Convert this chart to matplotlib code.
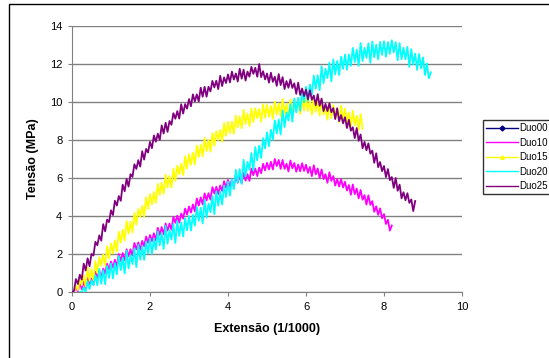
import matplotlib
matplotlib.use("Agg")
import matplotlib.pyplot as plt
from matplotlib.lines import Line2D
from matplotlib.patches import Rectangle

plt.rcParams.update({
    "font.family": ["Liberation Sans", "DejaVu Sans"],
    "font.size": 8,
})

# ---------------------------------------------------------------------------
# Dados: extensão (1/1000) e tensão (MPa)
# ---------------------------------------------------------------------------
extensao = [
    0.0, 0.05, 0.1, 0.15, 0.2, 0.25, 0.3, 0.35, 0.4, 0.45, 0.5, 0.55, 0.6, 0.65, 0.7, 0.75, 0.8, 0.85, 0.9, 0.95,
    1.0, 1.05, 1.1, 1.15, 1.2, 1.25, 1.3, 1.35, 1.4, 1.45, 1.5, 1.55, 1.6, 1.65, 1.7, 1.75, 1.8, 1.85, 1.9, 1.95,
    2.0, 2.05, 2.1, 2.15, 2.2, 2.25, 2.3, 2.35, 2.4, 2.45, 2.5, 2.55, 2.6, 2.65, 2.7, 2.75, 2.8, 2.85, 2.9, 2.95,
    3.0, 3.05, 3.1, 3.15, 3.2, 3.25, 3.3, 3.35, 3.4, 3.45, 3.5, 3.55, 3.6, 3.65, 3.7, 3.75, 3.8, 3.85, 3.9, 3.95,
    4.0, 4.05, 4.1, 4.15, 4.2, 4.25, 4.3, 4.35, 4.4, 4.45, 4.5, 4.55, 4.6, 4.65, 4.7, 4.75, 4.8, 4.85, 4.9, 4.95,
    5.0, 5.05, 5.1, 5.15, 5.2, 5.25, 5.3, 5.35, 5.4, 5.45, 5.5, 5.55, 5.6, 5.65, 5.7, 5.75, 5.8, 5.85, 5.9, 5.95,
    6.0, 6.05, 6.1, 6.15, 6.2, 6.25, 6.3, 6.35, 6.4, 6.45, 6.5, 6.55, 6.6, 6.65, 6.7, 6.75, 6.8, 6.85, 6.9, 6.95,
    7.0, 7.05, 7.1, 7.15, 7.2, 7.25, 7.3, 7.35, 7.4, 7.45, 7.5, 7.55, 7.6, 7.65, 7.7, 7.75, 7.8, 7.85, 7.9, 7.95,
    8.0, 8.05, 8.1, 8.15, 8.2, 8.25, 8.3, 8.35, 8.4, 8.45, 8.5, 8.55, 8.6, 8.65, 8.7, 8.75, 8.8, 8.85, 8.9, 8.95,
    9.0, 9.05, 9.1, 9.15, 9.2,
]

# Duo10: extensão 0 a 8.2
y_duo10 = [
    0.0, 0.0, 0.27, 0.03, 0.54, 0.15, 0.56, 0.17, 0.73, 0.34, 0.7, 0.38, 1.06, 0.74, 1.12, 0.75, 1.23, 0.96, 1.49, 1.17,
    1.6, 1.28, 1.7, 1.33, 2.0, 1.63, 2.05, 1.68, 2.25, 1.88, 2.25, 1.92, 2.58, 2.25, 2.61, 2.23, 2.69, 2.41, 2.92, 2.59,
    3.0, 2.67, 3.09, 2.71, 3.38, 3.0, 3.42, 3.04, 3.61, 3.23, 3.6, 3.28, 3.96, 3.64, 4.02, 3.65, 4.13, 3.86, 4.39, 4.07,
    4.5, 4.18, 4.61, 4.24, 4.92, 4.55, 4.98, 4.61, 5.19, 4.82, 5.2, 4.86, 5.52, 5.18, 5.54, 5.15, 5.61, 5.32, 5.83, 5.49,
    5.9, 5.54, 5.93, 5.52, 6.16, 5.75, 6.14, 5.73, 6.27, 5.86, 6.2, 5.85, 6.5, 6.15, 6.5, 6.1, 6.55, 6.25, 6.75, 6.4,
    6.8, 6.45, 6.85, 6.45, 7.0, 6.63, 6.95, 6.48, 6.95, 6.48, 6.75, 6.34, 6.92, 6.51, 6.79, 6.33, 6.71, 6.35, 6.78, 6.37,
    6.7, 6.27, 6.58, 6.1, 6.67, 6.19, 6.5, 6.0, 6.45, 5.95, 6.2, 5.75, 6.3, 5.85, 6.1, 5.6, 5.95, 5.55, 5.95, 5.5,
    5.8, 5.34, 5.63, 5.12, 5.66, 5.15, 5.44, 4.93, 5.37, 4.86, 5.1, 4.6, 5.09, 4.59, 4.78, 4.22, 4.51, 4.06, 4.4, 3.88,
    4.1, 3.58, 3.8, 3.23, 3.5,
]

# Duo15: extensão 0 a 7.45
y_duo15 = [
    0.0, 0.0, 0.35, 0.1, 0.65, 0.35, 0.9, 0.3, 1.3, 0.6, 1.2, 0.62, 1.64, 1.01, 1.83, 1.4, 1.97, 1.39, 2.41, 1.78,
    2.55, 2.03, 2.71, 2.14, 3.17, 2.6, 3.28, 2.71, 3.74, 3.07, 3.7, 3.13, 4.16, 3.54, 4.37, 3.95, 4.53, 3.96, 4.99, 4.37,
    5.15, 4.61, 5.27, 4.68, 5.69, 5.1, 5.76, 5.17, 6.18, 5.49, 6.1, 5.5, 6.5, 5.85, 6.65, 6.2, 6.75, 6.15, 7.15, 6.5,
    7.25, 6.69, 7.33, 6.72, 7.71, 7.1, 7.74, 7.13, 8.12, 7.41, 8.0, 7.38, 8.36, 7.69, 8.47, 8.0, 8.53, 7.91, 8.89, 8.22,
    8.95, 8.36, 8.97, 8.33, 9.29, 8.65, 9.26, 8.62, 9.58, 8.84, 9.4, 8.73, 9.66, 8.94, 9.67, 9.15, 9.63, 8.96, 9.89, 9.17,
    9.85, 9.22, 9.79, 9.11, 10.03, 9.35, 9.92, 9.24, 10.16, 9.38, 9.9, 9.22, 10.13, 9.4, 10.11, 9.58, 10.04, 9.36, 10.27, 9.54,
    10.2, 9.53, 10.05, 9.33, 10.2, 9.48, 10.0, 9.28, 10.15, 9.33, 9.8, 9.07, 9.94, 9.16, 9.83, 9.25, 9.67, 8.94, 9.81, 9.03,
    9.65, 8.95, 9.44, 8.69, 9.53, 8.78, 9.27, 8.52, 9.36, 8.6,
]

# Duo20: extensão 0.2 a 9.2
y_duo20 = [
    0.0, 0.0, 0.24, 0.0, 0.57, 0.16, 0.6, 0.37, 0.88, 0.35, 1.21, 0.43, 1.14, 0.41, 1.37, 0.74, 1.5, 0.71, 1.52, 0.93,
    1.89, 1.15, 1.81, 0.97, 2.18, 1.24, 1.95, 1.47, 2.29, 1.31, 2.48, 1.7, 2.42, 1.69, 2.66, 2.03, 2.8, 2.01, 2.82, 2.23,
    3.19, 2.45, 3.11, 2.27, 3.48, 2.54, 3.25, 2.76, 3.57, 2.58, 3.74, 2.95, 3.66, 2.92, 3.88, 3.24, 4.0, 3.23, 4.06, 3.49,
    4.47, 3.75, 4.43, 3.61, 4.84, 3.92, 4.65, 4.2, 5.05, 4.1, 5.3, 4.55, 5.3, 4.6, 5.6, 5.0, 5.8, 5.07, 5.94, 5.41,
    6.43, 5.75, 6.47, 5.69, 6.96, 6.08, 6.85, 6.44, 7.32, 6.4, 7.63, 6.92, 7.7, 7.05, 8.1, 7.55, 8.4, 7.67, 8.54, 8.01,
    9.03, 8.35, 9.07, 8.29, 9.56, 8.68, 9.45, 9.02, 9.89, 8.96, 10.18, 9.45, 10.22, 9.54, 10.56, 9.98, 10.8, 10.06, 10.92, 10.38,
    11.39, 10.7, 11.41, 10.62, 11.88, 10.99, 11.75, 11.26, 12.07, 11.08, 12.24, 11.45, 12.16, 11.42, 12.38, 11.74, 12.5, 11.7, 12.5, 11.9,
    12.85, 12.1, 12.75, 11.9, 13.1, 12.15, 12.85, 12.32, 13.09, 12.06, 13.18, 12.35, 13.02, 12.24, 13.16, 12.48, 13.2, 12.38, 13.15, 12.53,
    13.25, 12.6, 13.15, 12.2, 13.1, 12.25, 12.85, 12.25, 12.9, 11.84, 12.78, 11.97, 12.55, 11.69, 12.53, 11.77, 12.35, 11.42, 12.03, 11.25,
    11.56,
]

# Duo25: extensão 0 a 8.8
y_duo25 = [
    0.0, 0.05, 0.68, 0.42, 0.91, 0.65, 1.49, 1.13, 1.77, 1.36, 2.0, 1.92, 2.64, 2.46, 2.98, 2.7, 3.57, 3.19, 3.81, 3.68,
    4.3, 4.05, 4.8, 4.55, 5.05, 4.8, 5.65, 5.3, 5.95, 5.55, 6.2, 6.06, 6.72, 6.48, 6.94, 6.6, 7.41, 6.97, 7.53, 7.34,
    7.9, 7.57, 8.24, 7.91, 8.33, 8.0, 8.77, 8.34, 8.91, 8.43, 9.0, 8.8, 9.41, 9.12, 9.52, 9.13, 9.88, 9.39, 9.89, 9.65,
    10.15, 9.78, 10.4, 10.03, 10.4, 10.03, 10.75, 10.28, 10.8, 10.28, 10.8, 10.56, 11.11, 10.77, 11.12, 10.68, 11.38, 10.84, 11.29, 11.0,
    11.45, 11.03, 11.6, 11.18, 11.5, 11.08, 11.75, 11.23, 11.7, 11.13, 11.6, 11.33, 11.85, 11.48, 11.8, 11.33, 12.0, 11.31, 11.62, 11.19,
    11.5, 11.02, 11.54, 11.06, 11.33, 10.85, 11.47, 10.89, 11.31, 10.68, 11.1, 10.75, 11.19, 10.74, 10.98, 10.43, 11.02, 10.37, 10.71, 10.31,
    10.65, 10.14, 10.62, 10.11, 10.34, 9.83, 10.41, 9.8, 10.18, 9.52, 9.9, 9.52, 9.94, 9.46, 9.68, 9.1, 9.67, 8.99, 9.31, 8.88,
    9.2, 8.63, 9.06, 8.49, 8.67, 8.1, 8.63, 7.96, 8.29, 7.57, 7.9, 7.46, 7.82, 7.28, 7.44, 6.8, 7.3, 6.57, 6.84, 6.36,
    6.63, 6.05, 6.47, 5.89, 6.05, 5.48, 6.0, 5.33, 5.65, 4.93, 5.25, 4.83, 5.2, 4.69, 4.87, 4.26, 4.79,
]

x_duo10 = extensao[:len(y_duo10)]
x_duo15 = extensao[:len(y_duo15)]
x_duo20 = extensao[4:4 + len(y_duo20)]
x_duo25 = extensao[:len(y_duo25)]

series = [
    ("Duo00", [], [], "#000080", "D"),
    ("Duo10", x_duo10, y_duo10, "#FF00FF", None),
    ("Duo15", x_duo15, y_duo15, "#FFFF00", "^"),
    ("Duo20", x_duo20, y_duo20, "#00FFFF", None),
    ("Duo25", x_duo25, y_duo25, "#800080", None),
]

fig = plt.figure(figsize=(5.49, 3.58), dpi=100)
ax = fig.add_axes([72 / 549, 1 - 292 / 358, 390 / 549, 266 / 358])

handles = []
for name, xs, ys, color, marker in series:
    ax.plot(xs, ys, color=color, linewidth=1.3, zorder=3)
    handles.append(Line2D([0], [0], color=color, linewidth=1.0, marker=marker,
                          markersize=2.5, label=name))

ax.set_xlim(0, 10)
ax.set_ylim(0, 14)
ax.set_xticks(range(0, 11, 2))
ax.set_yticks(range(0, 15, 2))
ax.yaxis.grid(True, color="#808080", linewidth=1.0)
ax.set_axisbelow(True)
for side in ("top", "right"):
    ax.spines[side].set_visible(False)
for side in ("left", "bottom"):
    ax.spines[side].set_color("#808080")
ax.tick_params(direction="out", length=3, color="#808080", labelsize=8, pad=4)

ax.set_xlabel("Extensão (1/1000)", fontsize=9, fontweight="bold", labelpad=8)
ax.set_ylabel("Tensão (MPa)", fontsize=9, fontweight="bold", labelpad=8)

fig.legend(handles=handles, loc="upper left",
           bbox_to_anchor=(483 / 549, 1 - 120 / 358),
           fontsize=7, frameon=True, fancybox=False, edgecolor="black",
           handlelength=3.2, handletextpad=0.2, labelspacing=0.45,
           borderpad=0.35, borderaxespad=0)

# moldura exterior do gráfico (cortada à direita e em baixo)
fig.patches.append(Rectangle((9 / 549, -0.05), 1.2, 1 - 4 / 358 + 0.05,
                             transform=fig.transFigure, fill=False,
                             edgecolor="black", linewidth=1.0))

fig.savefig("out.png", dpi=100)
